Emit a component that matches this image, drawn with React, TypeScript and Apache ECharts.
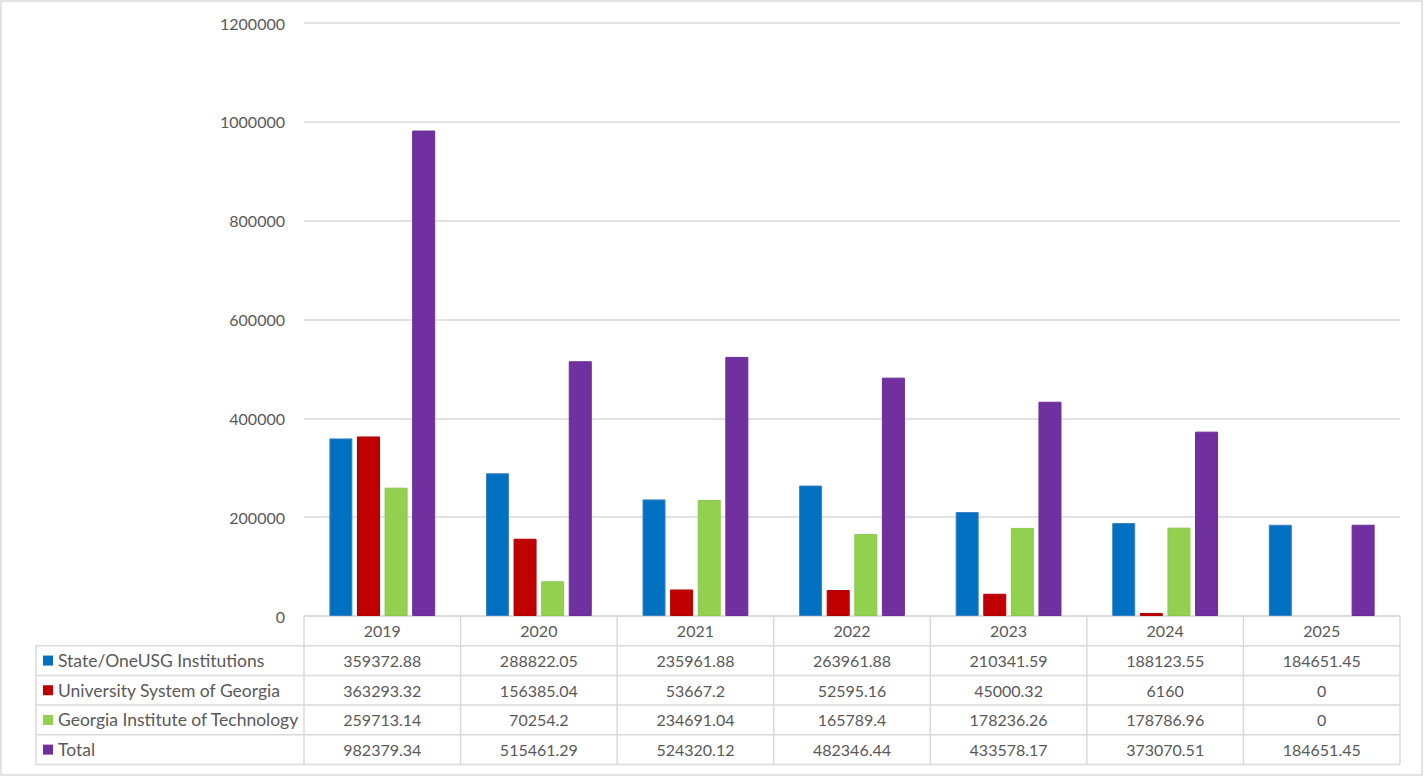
import React, { useEffect, useRef } from 'react';
import * as echarts from 'echarts';

const years = ['2019', '2020', '2021', '2022', '2023', '2024', '2025'];
const stateOneUsg = [359372.88, 288822.05, 235961.88, 263961.88, 210341.59, 188123.55, 184651.45];
const universitySystem = [363293.32, 156385.04, 53667.2, 52595.16, 45000.32, 6160, 0];
const georgiaTech = [259713.14, 70254.2, 234691.04, 165789.4, 178236.26, 178786.96, 0];
const totals = [982379.34, 515461.29, 524320.12, 482346.44, 433578.17, 373070.51, 184651.45];

const seriesDefs = [
    { name: 'State/OneUSG Institutions', data: stateOneUsg, color: '#0070C0', border: '#3a80c4' },
    { name: 'University System of Georgia', data: universitySystem, color: '#C00000', border: '#b00000' },
    { name: 'Georgia Institute of Technology', data: georgiaTech, color: '#92D050', border: '#8cc84c' },
    { name: 'Total', data: totals, color: '#7030A0', border: '#6a2d98' },
];

const W = 1424;
const H = 777;
const gridLeft = 304;
const gridRight = 1400;
const gridTop = 23;
const gridBottom = 616;
const tableLeft = 36;
const rowH = 29.7;
const lineColor = '#d9d9d9';
const textColor = '#595959';
const font = 'Lato, "Open Sans", sans-serif';

const buildTable = () => {
    const colW = (gridRight - gridLeft) / years.length;
    const els: any[] = [];
    const tableBottom = gridBottom + rowH * (seriesDefs.length + 1);

    // outer chart border
    els.push({
        type: 'rect',
        shape: { x: 1, y: 1, width: W - 3, height: H - 3 },
        style: { fill: 'none', stroke: lineColor, lineWidth: 1.5 },
        silent: true,
    });

    // horizontal lines
    for (let r = 0; r <= seriesDefs.length + 1; r++) {
        const y = gridBottom + r * rowH;
        els.push({
            type: 'line',
            shape: { x1: r === 0 ? gridLeft : tableLeft, y1: y, x2: gridRight, y2: y },
            style: { stroke: lineColor, lineWidth: 1.5 },
            silent: true,
        });
    }
    // vertical lines
    els.push({
        type: 'line',
        shape: { x1: tableLeft, y1: gridBottom + rowH, x2: tableLeft, y2: tableBottom },
        style: { stroke: lineColor, lineWidth: 1.5 },
        silent: true,
    });
    for (let c = 0; c <= years.length; c++) {
        const x = gridLeft + c * colW;
        els.push({
            type: 'line',
            shape: { x1: x, y1: gridBottom, x2: x, y2: tableBottom },
            style: { stroke: lineColor, lineWidth: 1.5 },
            silent: true,
        });
    }

    // header
    years.forEach((yr, i) => {
        els.push({
            type: 'text',
            x: gridLeft + (i + 0.5) * colW,
            y: gridBottom + rowH / 2,
            style: { text: yr, fill: textColor, font: `16px ${font}`, align: 'center', verticalAlign: 'middle' },
            silent: true,
        });
    });

    // rows
    seriesDefs.forEach((s, r) => {
        const cy = gridBottom + (r + 1.5) * rowH;
        els.push({
            type: 'rect',
            shape: { x: 43, y: cy - 5, width: 10, height: 10 },
            style: { fill: s.color },
            silent: true,
        });
        els.push({
            type: 'text',
            x: 58,
            y: cy,
            style: { text: s.name, fill: textColor, font: `17.5px ${font}`, align: 'left', verticalAlign: 'middle' },
            silent: true,
        });
        s.data.forEach((v, i) => {
            els.push({
                type: 'text',
                x: gridLeft + (i + 0.5) * colW,
                y: cy,
                style: { text: String(v), fill: textColor, font: `16px ${font}`, align: 'center', verticalAlign: 'middle' },
                silent: true,
            });
        });
    });
    return els;
};

const App: React.FC = () => {
    const chartRef = useRef<HTMLDivElement | null>(null);

    useEffect(() => {
        if (!chartRef.current) return;
        const myChart = echarts.init(chartRef.current, null, { renderer: 'svg' });

        myChart.setOption({
            animation: false,
            backgroundColor: '#ffffff',
            textStyle: { fontFamily: font },
            grid: {
                left: gridLeft,
                right: W - gridRight,
                top: gridTop,
                bottom: H - gridBottom,
                containLabel: false,
            },
            xAxis: {
                type: 'category',
                data: years,
                axisLine: { show: false },
                axisTick: { show: false },
                axisLabel: { show: false },
            },
            yAxis: {
                type: 'value',
                min: 0,
                max: 1200000,
                interval: 200000,
                axisLine: { show: false },
                axisTick: { show: false },
                axisLabel: {
                    color: textColor,
                    fontSize: 16,
                    fontFamily: font,
                    margin: 19,
                    formatter: (v: number) => String(v),
                },
                splitLine: { lineStyle: { color: lineColor, width: 1.5 } },
            },
            series: seriesDefs.map((s) => ({
                name: s.name,
                type: 'bar',
                data: s.data.map((v) => ({
                    value: v,
                    itemStyle: { borderWidth: v === 0 ? 0 : 1 },
                })),
                barWidth: 23,
                barGap: '20%',
                itemStyle: { color: s.color, borderColor: s.border, borderWidth: 1 },
            })),
            graphic: buildTable(),
        });

        return () => {
            myChart.dispose();
        };
    }, []);

    return (
        <div
            ref={chartRef}
            style={{ position: 'fixed', left: 0, top: 0, width: W + 'px', height: H + 'px' }}
        />
    );
};

export default App;
